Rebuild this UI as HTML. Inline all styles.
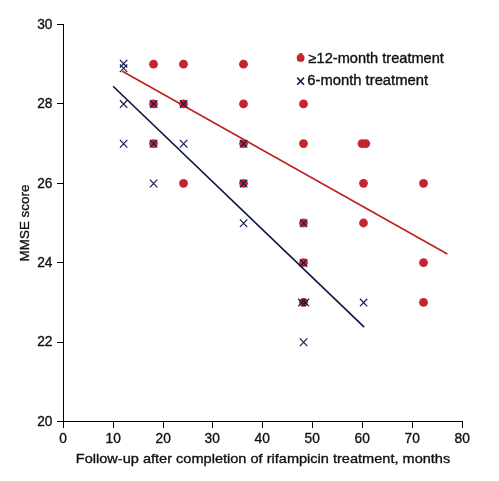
<!DOCTYPE html>
<html><head><meta charset="utf-8"><style>
html,body{margin:0;padding:0;background:#fff;}
body{width:499px;height:481px;overflow:hidden;}
svg{display:block;will-change:transform;}
text{font-family:"Liberation Sans",sans-serif;fill:#111;stroke:#111;stroke-width:0.35px;}
</style></head><body>
<svg width="499" height="481" viewBox="0 0 499 481">
<path d="M63.5 24.5V421.5H463" stroke="#000" stroke-width="1" fill="none" shape-rendering="crispEdges"/>
<text id="y20" transform="translate(52.46 425.74) scale(0.9972 1)" text-anchor="end" style="font-size:13.774px">20</text>
<text id="y22" transform="translate(52.46 346.34) scale(0.9972 1)" text-anchor="end" style="font-size:13.774px">22</text>
<text id="y24" transform="translate(52.46 266.94) scale(0.9972 1)" text-anchor="end" style="font-size:13.774px">24</text>
<text id="y26" transform="translate(52.46 187.54) scale(0.9972 1)" text-anchor="end" style="font-size:13.774px">26</text>
<text id="y28" transform="translate(52.46 108.14) scale(0.9972 1)" text-anchor="end" style="font-size:13.774px">28</text>
<text id="y30" transform="translate(52.46 28.74) scale(0.9972 1)" text-anchor="end" style="font-size:13.774px">30</text>
<text id="x0" transform="translate(63.13 442.87) scale(0.9972 1)" text-anchor="middle" style="font-size:13.774px">0</text>
<text id="x10" transform="translate(113.13 442.87) scale(0.9972 1)" text-anchor="middle" style="font-size:13.774px">10</text>
<text id="x20" transform="translate(163.13 442.87) scale(0.9972 1)" text-anchor="middle" style="font-size:13.774px">20</text>
<text id="x30" transform="translate(212.13 442.87) scale(0.9972 1)" text-anchor="middle" style="font-size:13.774px">30</text>
<text id="x40" transform="translate(262.13 442.87) scale(0.9972 1)" text-anchor="middle" style="font-size:13.774px">40</text>
<text id="x50" transform="translate(312.13 442.87) scale(0.9972 1)" text-anchor="middle" style="font-size:13.774px">50</text>
<text id="x60" transform="translate(362.13 442.87) scale(0.9972 1)" text-anchor="middle" style="font-size:13.774px">60</text>
<text id="x70" transform="translate(412.13 442.87) scale(0.9972 1)" text-anchor="middle" style="font-size:13.774px">70</text>
<text id="x80" transform="translate(462.13 442.87) scale(0.9972 1)" text-anchor="middle" style="font-size:13.774px">80</text>
<path d="M57 421.5H63.5" stroke="#000" stroke-width="1" shape-rendering="crispEdges"/>
<path d="M57 342.1H63.5" stroke="#000" stroke-width="1" shape-rendering="crispEdges"/>
<path d="M57 262.7H63.5" stroke="#000" stroke-width="1" shape-rendering="crispEdges"/>
<path d="M57 183.29999999999998H63.5" stroke="#000" stroke-width="1" shape-rendering="crispEdges"/>
<path d="M57 103.89999999999998H63.5" stroke="#000" stroke-width="1" shape-rendering="crispEdges"/>
<path d="M57 24.5H63.5" stroke="#000" stroke-width="1" shape-rendering="crispEdges"/>
<path d="M63.5 421.5V427.5" stroke="#000" stroke-width="1" shape-rendering="crispEdges"/>
<path d="M113.5 421.5V427.5" stroke="#000" stroke-width="1" shape-rendering="crispEdges"/>
<path d="M163.5 421.5V427.5" stroke="#000" stroke-width="1" shape-rendering="crispEdges"/>
<path d="M212.5 421.5V427.5" stroke="#000" stroke-width="1" shape-rendering="crispEdges"/>
<path d="M262.5 421.5V427.5" stroke="#000" stroke-width="1" shape-rendering="crispEdges"/>
<path d="M312.5 421.5V427.5" stroke="#000" stroke-width="1" shape-rendering="crispEdges"/>
<path d="M362.5 421.5V427.5" stroke="#000" stroke-width="1" shape-rendering="crispEdges"/>
<path d="M412.5 421.5V427.5" stroke="#000" stroke-width="1" shape-rendering="crispEdges"/>
<path d="M462.5 421.5V427.5" stroke="#000" stroke-width="1" shape-rendering="crispEdges"/>
<circle cx="153.50" cy="64.20" r="4.4" fill="#C42530"/>
<circle cx="153.50" cy="103.90" r="4.4" fill="#C42530"/>
<circle cx="153.50" cy="143.60" r="4.4" fill="#C42530"/>
<circle cx="183.50" cy="64.20" r="4.4" fill="#C42530"/>
<circle cx="183.50" cy="103.90" r="4.4" fill="#C42530"/>
<circle cx="183.50" cy="183.30" r="4.4" fill="#C42530"/>
<circle cx="243.50" cy="64.20" r="4.4" fill="#C42530"/>
<circle cx="243.50" cy="103.90" r="4.4" fill="#C42530"/>
<circle cx="243.50" cy="143.60" r="4.4" fill="#C42530"/>
<circle cx="243.50" cy="183.30" r="4.4" fill="#C42530"/>
<circle cx="303.50" cy="103.90" r="4.4" fill="#C42530"/>
<circle cx="303.50" cy="143.60" r="4.4" fill="#C42530"/>
<circle cx="303.50" cy="223.00" r="4.4" fill="#C42530"/>
<circle cx="303.50" cy="262.70" r="4.4" fill="#C42530"/>
<circle cx="303.50" cy="302.40" r="4.4" fill="#C42530"/>
<circle cx="362.00" cy="143.60" r="4.4" fill="#C42530"/>
<circle cx="365.75" cy="143.60" r="4.4" fill="#C42530"/>
<circle cx="363.50" cy="183.30" r="4.4" fill="#C42530"/>
<circle cx="363.50" cy="223.00" r="4.4" fill="#C42530"/>
<circle cx="423.50" cy="183.30" r="4.4" fill="#C42530"/>
<circle cx="423.50" cy="262.70" r="4.4" fill="#C42530"/>
<circle cx="423.50" cy="302.40" r="4.4" fill="#C42530"/>
<path d="M122.8 71.6L446.9 253.7" stroke="#BC2421" stroke-width="1.7" stroke-linecap="round"/>
<path d="M113.6 86.75L363.7 326.6" stroke="#111849" stroke-width="1.7" stroke-linecap="round"/>
<path d="M119.90 64.44L127.30 72.14M127.30 64.44L119.90 72.14" stroke="#151C50" stroke-width="1.2" fill="none"/>
<path d="M119.90 59.84L127.30 67.53M127.30 59.84L119.90 67.53" stroke="#151C50" stroke-width="1.2" fill="none"/>
<path d="M119.90 100.25L127.30 107.95M127.30 100.25L119.90 107.95" stroke="#151C50" stroke-width="1.2" fill="none"/>
<path d="M119.90 139.95L127.30 147.65M127.30 139.95L119.90 147.65" stroke="#151C50" stroke-width="1.2" fill="none"/>
<path d="M149.90 100.25L157.30 107.95M157.30 100.25L149.90 107.95" stroke="#151C50" stroke-width="1.2" fill="none"/>
<path d="M149.90 139.95L157.30 147.65M157.30 139.95L149.90 147.65" stroke="#151C50" stroke-width="1.2" fill="none"/>
<path d="M149.90 179.65L157.30 187.35M157.30 179.65L149.90 187.35" stroke="#151C50" stroke-width="1.2" fill="none"/>
<path d="M179.90 100.25L187.30 107.95M187.30 100.25L179.90 107.95" stroke="#151C50" stroke-width="1.2" fill="none"/>
<path d="M179.90 139.95L187.30 147.65M187.30 139.95L179.90 147.65" stroke="#151C50" stroke-width="1.2" fill="none"/>
<path d="M239.90 139.95L247.30 147.65M247.30 139.95L239.90 147.65" stroke="#151C50" stroke-width="1.2" fill="none"/>
<path d="M239.90 179.65L247.30 187.35M247.30 179.65L239.90 187.35" stroke="#151C50" stroke-width="1.2" fill="none"/>
<path d="M239.90 219.35L247.30 227.05M247.30 219.35L239.90 227.05" stroke="#151C50" stroke-width="1.2" fill="none"/>
<path d="M299.90 219.35L307.30 227.05M307.30 219.35L299.90 227.05" stroke="#151C50" stroke-width="1.2" fill="none"/>
<path d="M299.90 259.05L307.30 266.75M307.30 259.05L299.90 266.75" stroke="#151C50" stroke-width="1.2" fill="none"/>
<path d="M298.15 298.75L305.55 306.45M305.55 298.75L298.15 306.45" stroke="#151C50" stroke-width="1.2" fill="none"/>
<path d="M301.65 298.75L309.05 306.45M309.05 298.75L301.65 306.45" stroke="#151C50" stroke-width="1.2" fill="none"/>
<path d="M299.90 338.45L307.30 346.15M307.30 338.45L299.90 346.15" stroke="#151C50" stroke-width="1.2" fill="none"/>
<path d="M359.90 298.75L367.30 306.45M367.30 298.75L359.90 306.45" stroke="#151C50" stroke-width="1.2" fill="none"/>
<rect x="299.1" y="52.9" width="3.7" height="1.6" rx="0.5" fill="#D44A32"/>
<circle cx="300.6" cy="57.9" r="3.9" fill="#C42530"/>
<path d="M297.20 77.61L304.00 84.69M304.00 77.61L297.20 84.69" stroke="#151C50" stroke-width="1.5" fill="none"/>
<text id="leg1" transform="translate(308.54 62.87) scale(1.0501 1)" style="font-size:13.900px">≥12-month treatment</text>
<text id="leg2" transform="translate(307.26 84.87) scale(1.0646 1)" style="font-size:13.900px">6-month treatment</text>
<text id="xt" transform="translate(75.80 462.75) scale(1.0708 1)" style="font-size:13.593px">Follow-up after completion of rifampicin treatment, months</text>
<text id="yt" transform="translate(28.72 261.38) rotate(-90) scale(0.9854 1)" style="font-size:13.633px">MMSE score</text>
</svg>
</body></html>
